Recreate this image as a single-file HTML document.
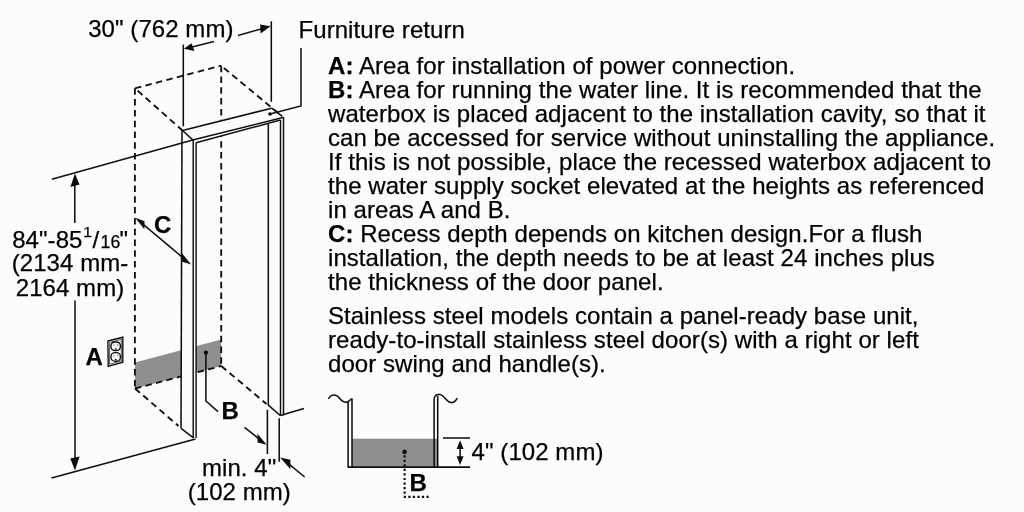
<!DOCTYPE html>
<html><head><meta charset="utf-8">
<style>
html,body{margin:0;padding:0;background:#fcfcfc;}
body{width:1024px;height:512px;overflow:hidden;position:relative;}
svg{position:absolute;left:0;top:0;will-change:transform;}
text{font-family:"Liberation Sans",sans-serif;font-size:24px;fill:#000;letter-spacing:0.065px;stroke:#000;stroke-width:0.25px;}
.b{font-weight:bold;}
</style></head>
<body>
<svg width="1024" height="512" viewBox="0 0 1024 512">
<defs><filter id="bl" x="0" y="0" width="1024" height="512" filterUnits="userSpaceOnUse"><feGaussianBlur stdDeviation="0.35"/></filter></defs>
<g filter="url(#bl)">
<g fill="none" stroke="#111" stroke-width="1.55">
  <!-- gray band -->
  <polygon points="135,362.6 221.2,339.4 221.2,366 135,388.5" fill="#8f8f8f" stroke="none"/>
  <!-- dashed box -->
  <g stroke-dasharray="6.5 4.3" stroke-width="1.85">
    <line x1="135" y1="88.3" x2="221.2" y2="65.7"/>
    <line x1="221.2" y1="65.7" x2="282.2" y2="116.4" stroke-dashoffset="-3.5"/>
    <line x1="135" y1="88.3" x2="182.5" y2="130.5" stroke-dashoffset="-3.5"/>
    <line x1="134.9" y1="88.3" x2="134.9" y2="388.5"/>
    <line x1="221.2" y1="65.7" x2="221.2" y2="366"/>
    <line x1="135" y1="388.5" x2="221.3" y2="366"/>
    <line x1="135" y1="388.5" x2="178.5" y2="426"/>
    <line x1="221.3" y1="366" x2="266.5" y2="404"/>
  </g>
  <!-- panel white faces -->
  <polygon points="182,130.5 196.1,142.7 196.1,438 181,428.3" fill="#fcfcfc" stroke="none"/>
  <polygon points="268.3,110 283.4,117 283.4,415.4 268.3,405" fill="#fcfcfc" stroke="none"/>
  <polygon points="182.5,130.5 271.7,108.2 283,117.5 283,120 196,142.3 192.7,141" fill="#fcfcfc" stroke="none"/>
  <!-- panel lines -->
  <line x1="183.3" y1="44.6" x2="183.3" y2="126.3"/>
  <line x1="182" y1="130.5" x2="181" y2="428.3"/>
  <line x1="182.5" y1="130.5" x2="192.7" y2="139.9"/>
  <line x1="181" y1="428.3" x2="193.5" y2="437.8"/>
  <line x1="193.2" y1="140" x2="193.2" y2="438" stroke-width="1.45"/>
  <line x1="196.1" y1="142.7" x2="196.1" y2="438" stroke-width="1.45"/>
  <line x1="182.5" y1="130.5" x2="271.7" y2="108.2"/>
  <line x1="271.7" y1="108.2" x2="282.2" y2="116.4"/>
  <line x1="192.7" y1="139.9" x2="283" y2="117.5"/>
  <line x1="196" y1="142.7" x2="280.5" y2="120" stroke-width="1.45"/>
  <line x1="283.5" y1="117" x2="283.5" y2="415.4" stroke-width="1.45"/>
  <line x1="280.5" y1="120" x2="280.5" y2="415.4" stroke-width="1.45"/>
  <line x1="268.3" y1="124" x2="268.3" y2="405"/>
  <line x1="268" y1="404.8" x2="280.3" y2="415.5"/>
  <line x1="280.2" y1="415.4" x2="304" y2="408.5"/>
  <line x1="195.5" y1="438.9" x2="51.5" y2="477.9"/>
  <!-- height ref -->
  <line x1="51.8" y1="179.3" x2="192.7" y2="139.9"/>
  <line x1="74.8" y1="185" x2="74.8" y2="223"/>
  <line x1="75" y1="300.5" x2="75" y2="458"/>
  <!-- top dimension -->
  <line x1="271.3" y1="21.3" x2="271.3" y2="101.8"/>
  <line x1="214" y1="41.5" x2="192" y2="47"/>
  <line x1="238" y1="35.4" x2="262" y2="28.7"/>
  <!-- furniture return leader -->
  <polyline points="301,48 301,106 270,114"/>
  <!-- C arrow -->
  <line x1="142" y1="223.3" x2="184" y2="258.6"/>
  <!-- B leader -->
  <polyline points="205.9,352.6 205.9,401 218,411.6"/>
  <!-- min 4 dims -->
  <line x1="267.4" y1="409.8" x2="267.4" y2="454"/>
  <line x1="279.2" y1="418.2" x2="279.2" y2="461.8"/>
  <line x1="244.5" y1="427.3" x2="259" y2="438.9"/>
  <line x1="288" y1="463.3" x2="304.7" y2="477"/>
</g>
<!-- arrowheads -->
<g fill="#111">
  <polygon points="74.9,173.4 70.4,186.9 79.5,184.4"/>
  <polygon points="75,470.6 70.3,458.4 79.6,456.4"/>
  <polygon points="183.9,48.7 191.4,43.2 194.5,51"/>
  <polygon points="270.6,26.2 260.1,24.4 260.6,33.5"/>
  <polygon points="135.2,217.8 144.6,221.3 144.3,229.3"/>
  <polygon points="191.2,264.6 181.8,253.1 182.2,261.8"/>
  <polygon points="266.7,444.8 257.4,433.8 257.6,442.5"/>
  <polygon points="280.2,457.4 290.4,459.8 290.4,469.2"/>
  <circle cx="270" cy="114" r="1.8"/>
  <circle cx="205.9" cy="352.6" r="2.2"/>
</g>
<!-- outlet -->
<g fill="none" stroke="#111">
  <polygon points="107.9,341 122.8,337.2 122.8,362.1 108.2,366.3" stroke-width="1.4"/>
  <polygon points="109.6,342.5 121.3,339.3 121.3,361 109.6,364.3" stroke-width="0.7"/>
  <rect x="111" y="342" width="9.4" height="8.6" rx="4" ry="3.8" stroke-width="1.4"/>
  <rect x="111" y="352.6" width="9.4" height="8.6" rx="4" ry="3.8" stroke-width="1.4"/>
</g>
<g fill="#999">
  <rect x="113.3" y="344.3" width="1.2" height="1.8"/><rect x="117" y="344" width="1.2" height="1.8"/>
  <rect x="113.3" y="354.9" width="1.2" height="1.8"/><rect x="117" y="354.6" width="1.2" height="1.8"/>
</g>
<g fill="#222"><rect x="114.8" y="348.2" width="1.8" height="1.6"/><rect x="114.8" y="358.8" width="1.8" height="1.6"/></g>
<!-- small diagram -->
<g fill="none" stroke="#111" stroke-width="1.55">
  <rect x="352" y="438.7" width="85" height="28.3" fill="#8f8f8f" stroke="none"/>
  <path d="M328.4,398.8 C331,394.5 335,393.8 338.5,397 C341.5,400.5 344,403.5 348.1,401.7 L352,398.6"/>
  <line x1="348.1" y1="401.5" x2="348.1" y2="467.1"/>
  <line x1="352" y1="398.6" x2="352" y2="467.1"/>
  <path d="M434.1,467.1 L434.1,399 C434.5,395.5 437,394.3 440,394.6 C444,395.2 446.5,402 451,402.6 C454,403 456,400.5 457.3,398.2"/>
  <line x1="437.7" y1="396" x2="437.7" y2="467.1"/>
  <line x1="347.6" y1="467.1" x2="470" y2="467.1"/>
  <line x1="443" y1="438" x2="470" y2="438"/>
  <line x1="460.1" y1="446" x2="460.1" y2="459"/>
  <path d="M404.6,456.3 L404.6,496.9 L427.6,496.9" stroke-dasharray="0 4.54" stroke-linecap="square" stroke-width="2.2"/>
</g>
<g fill="#111">
  <polygon points="460.1,440.2 456.6,449 463.6,449"/>
  <polygon points="460.1,465 456.6,456.2 463.6,456.2"/>
  <circle cx="404.6" cy="451.9" r="2.3"/>
</g>

<!-- texts -->
<text x="88.2" y="36.7">30" (762 mm)</text>
<text x="298.5" y="37.9">Furniture return</text>
<text x="12.2" y="248">84"-85</text>
<text x="83.3" y="237" style="font-size:15.5px;letter-spacing:0">1</text>
<text x="92.6" y="248">/</text>
<text x="100.6" y="248" style="font-size:17.7px;letter-spacing:0">16</text>
<text x="119.6" y="248">"</text>
<text x="70" y="271.2" text-anchor="middle">(2134 mm-</text>
<text x="70" y="295.5" text-anchor="middle">2164 mm)</text>
<text class="b" x="154" y="232.5">C</text>
<text class="b" x="85.6" y="364.8">A</text>
<text class="b" x="221.5" y="419.3">B</text>
<text x="202" y="475.5">min. 4"</text>
<text x="187.7" y="500.4">(102 mm)</text>
<text class="b" x="409.5" y="490.5">B</text>
<text x="471.6" y="460">4" (102 mm)</text>

<g>
<text x="328" y="74.2"><tspan class="b">A:</tspan> Area for installation of power connection.</text>
<text x="328" y="98.2"><tspan class="b">B:</tspan> Area for running the water line. It is recommended that the</text>
<text x="328" y="122.2">waterbox is placed adjacent to the installation cavity, so that it</text>
<text x="328" y="146.2">can be accessed for service without uninstalling the appliance.</text>
<text x="328" y="170.2">If this is not possible, place the recessed waterbox adjacent to</text>
<text x="328" y="194.2">the water supply socket elevated at the heights as referenced</text>
<text x="328" y="218.2">in areas A and B.</text>
<text x="328" y="242.2"><tspan class="b">C:</tspan> Recess depth depends on kitchen design.For a flush</text>
<text x="328" y="266.2">installation, the depth needs to be at least 24 inches plus</text>
<text x="328" y="290.2">the thickness of the door panel.</text>
<text x="328" y="324.1">Stainless steel models contain a panel-ready base unit,</text>
<text x="328" y="348.1">ready-to-install stainless steel door(s) with a right or left</text>
<text x="328" y="372.2">door swing and handle(s).</text>
</g>
</g>
</svg>
</body></html>
